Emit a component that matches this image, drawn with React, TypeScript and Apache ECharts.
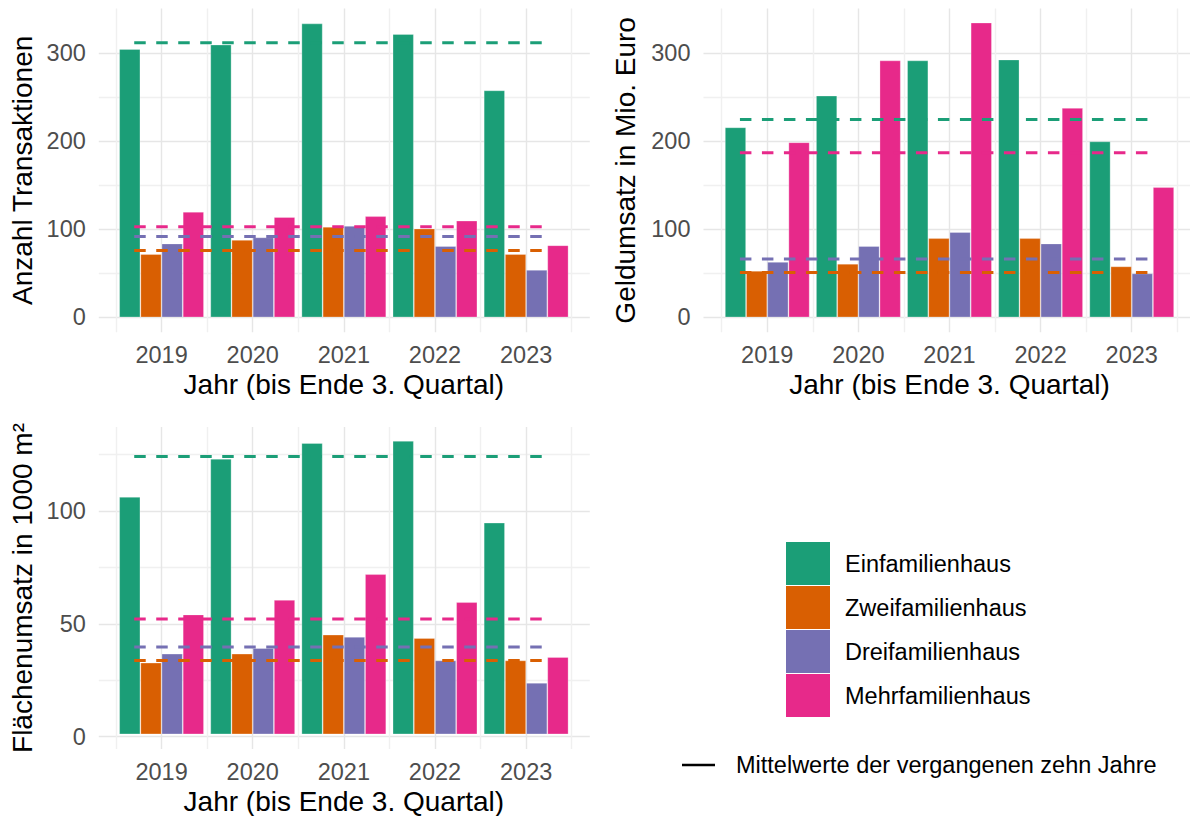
import React, { useEffect, useRef } from 'react';
import * as echarts from 'echarts';

// Jahre (bis Ende 3. Quartal) und Gebäudearten
const years = ['2019', '2020', '2021', '2022', '2023'];
const types = ['Einfamilienhaus', 'Zweifamilienhaus', 'Dreifamilienhaus', 'Mehrfamilienhaus'];
const colors = ['#1B9E77', '#D95F02', '#7570B3', '#E7298A'];
const meanLabel = 'Mittelwerte der vergangenen zehn Jahre';

// Anzahl Transaktionen
const anzahlEin = [305, 310, 334, 322, 258];
const anzahlZwei = [72, 88, 103, 101, 72];
const anzahlDrei = [84, 91, 104, 81, 54];
const anzahlMehr = [120, 114, 115, 110, 82];
const anzahlMittel = [312, 76, 92, 103];

// Geldumsatz in Mio. Euro
const geldEin = [216, 252, 292, 293, 200];
const geldZwei = [53, 61, 90, 90, 58];
const geldDrei = [63, 81, 97, 84, 50];
const geldMehr = [199, 292, 335, 238, 148];
const geldMittel = [225, 51, 66.5, 187];

// Flächenumsatz in 1000 m²
const flaecheEin = [106, 123, 130, 131, 94.5];
const flaecheZwei = [32, 36, 44.5, 43, 33];
const flaecheDrei = [36, 38.5, 43.5, 33, 23];
const flaecheMehr = [53.5, 60, 71.5, 59, 34.5];
const flaecheMittel = [124, 33, 39, 51.5];

// y tick labels
const ticksAnzahl = [0, 100, 200, 300];
const ticksGeld = [0, 100, 200, 300];
const ticksFlaeche = [0, 50, 100];

// Mittelwert-Linien reichen von x = 0.7 bis 5.2 (Kategorien 1..5)
const MEAN_FROM = 0.7;
const MEAN_TO = 5.2;

const FONT = '"Liberation Sans", Arial, Helvetica, sans-serif';
const SMALL = 23.5;
const BIG = 28;
const GRID_MAJOR = '#e6e6e6';
const GRID_MINOR = '#f0f0f0';

const panels = [
  {
    name: 'Anzahl Transaktionen', values: [anzahlEin, anzahlZwei, anzahlDrei, anzahlMehr], means: anzahlMittel,
    ticks: ticksAnzahl, step: 50, gridMax: 300, yMin: -16.8, yMax: 351,
    top: 8.5, bottom: 332.2, bandLeft: 116, bandWidth: 455.7, panelLeft: 98.8, panelWidth: 491, nameGap: 80,
  },
  {
    name: 'Geldumsatz in Mio. Euro', values: [geldEin, geldZwei, geldDrei, geldMehr], means: geldMittel,
    ticks: ticksGeld, step: 50, gridMax: 300, yMin: -16.8, yMax: 351,
    top: 8.5, bottom: 332.2, bandLeft: 721.7, bandWidth: 455.6, panelLeft: 703.5, panelWidth: 492, nameGap: 82,
  },
  {
    name: 'Flächenumsatz in 1000 m²', values: [flaecheEin, flaecheZwei, flaecheDrei, flaecheMehr], means: flaecheMittel,
    ticks: ticksFlaeche, step: 25, gridMax: 125, yMin: -6.55, yMax: 137.2,
    top: 427, bottom: 751.5, bandLeft: 116, bandWidth: 455.7, panelLeft: 98.8, panelWidth: 491, nameGap: 80,
  },
];

export default function App() {
  const ref = useRef<HTMLDivElement>(null);
  useEffect(() => {
    if (!ref.current) return;
    const chart = echarts.init(ref.current, undefined, { renderer: 'svg' });

    const grid: any[] = [];
    const xAxis: any[] = [];
    const yAxis: any[] = [];
    const series: any[] = [];

    panels.forEach((p, i) => {
      const h = p.bottom - p.top;
      const ppu = h / (p.yMax - p.yMin);
      const y0 = p.bottom + p.yMin * ppu;
      // grid B: Balken + senkrechte Gitterlinien, volle Panelhöhe
      grid.push({ left: p.bandLeft, width: p.bandWidth, top: p.top, height: h });
      // grid A: waagrechte Gitterlinien + y-Beschriftung, volle Panelbreite
      grid.push({ left: p.panelLeft, width: p.panelWidth, top: y0 - p.gridMax * ppu, height: p.gridMax * ppu });

      xAxis.push({
        type: 'category', gridIndex: 2 * i, data: years,
        axisLine: { show: false }, axisTick: { show: false }, splitLine: { show: false },
        axisLabel: { fontSize: SMALL, color: '#4D4D4D', margin: 11, fontFamily: FONT },
        name: 'Jahr (bis Ende 3. Quartal)', nameLocation: 'middle', nameGap: 38,
        nameTextStyle: { fontSize: BIG, color: '#000', fontFamily: FONT },
      });
      xAxis.push({
        type: 'value', gridIndex: 2 * i, min: 0.5, max: 5.5, interval: 0.5, position: 'top',
        axisLine: { show: false }, axisTick: { show: false }, axisLabel: { show: false },
        splitLine: { show: true, lineStyle: { color: [GRID_MINOR, GRID_MAJOR], width: 1.4 } },
      });
      xAxis.push({ type: 'value', gridIndex: 2 * i + 1, min: 0, max: 1, show: false });

      yAxis.push({
        type: 'value', gridIndex: 2 * i, min: p.yMin, max: p.yMax,
        axisLine: { show: false }, axisTick: { show: false }, axisLabel: { show: false }, splitLine: { show: false },
        name: p.name, nameLocation: 'middle', nameGap: p.nameGap,
        nameTextStyle: { fontSize: BIG, color: '#000', fontFamily: FONT },
      });
      yAxis.push({
        type: 'value', gridIndex: 2 * i + 1, min: 0, max: p.gridMax, interval: p.step,
        axisLine: { show: false }, axisTick: { show: false },
        axisLabel: {
          fontSize: SMALL, color: '#4D4D4D', margin: 13, fontFamily: FONT,
          formatter: (v: number) => (p.ticks.includes(v) ? String(v) : ''),
        },
        splitLine: { show: true, lineStyle: { color: [GRID_MAJOR, GRID_MINOR], width: 1.4 } },
      });

      p.values.forEach((vals, k) => {
        series.push({
          name: types[k], type: 'bar', xAxisIndex: 3 * i, yAxisIndex: 2 * i, data: vals,
          barGap: '0%', barCategoryGap: '7%',
          itemStyle: { color: colors[k], borderColor: 'rgba(255,255,255,0.35)', borderWidth: 0.8 },
          silent: true,
        });
      });
      p.means.forEach((m, k) => {
        series.push({
          name: 'mittel-' + i + '-' + k, type: 'line', xAxisIndex: 3 * i + 1, yAxisIndex: 2 * i,
          data: [[MEAN_FROM, m], [MEAN_TO, m]], showSymbol: false, symbol: 'none', z: 4, silent: true,
          lineStyle: { color: colors[k], width: 3, type: [11.5, 10.5] },
        });
      });
    });

    // nur für den Legendeneintrag der Mittelwerte
    series.push({ name: meanLabel, type: 'line', data: [], color: '#000', xAxisIndex: 0, yAxisIndex: 0 });

    chart.setOption({
      animation: false,
      backgroundColor: '#fff',
      textStyle: { fontFamily: FONT },
      grid,
      xAxis,
      yAxis,
      series,
      legend: [
        {
          orient: 'vertical', left: 786, top: 542, padding: 0, itemWidth: 44, itemHeight: 43, itemGap: 1,
          icon: 'rect', data: types, selectedMode: false, itemStyle: { borderWidth: 0 },
          textStyle: { fontSize: SMALL, color: '#000', fontFamily: FONT, padding: [0, 0, 0, 10] },
        },
        {
          orient: 'vertical', left: 682, top: 753, padding: 0, itemWidth: 33, itemHeight: 2.5,
          data: [{ name: meanLabel, icon: 'rect' }], selectedMode: false,
          textStyle: { fontSize: SMALL, color: '#000', fontFamily: FONT, padding: [0, 0, 0, 16] },
        },
      ],
    });
    return () => chart.dispose();
  }, []);
  return <div ref={ref} style={{ position: 'fixed', left: 0, top: 0, width: 1190, height: 816, background: '#fff' }} />;
}
